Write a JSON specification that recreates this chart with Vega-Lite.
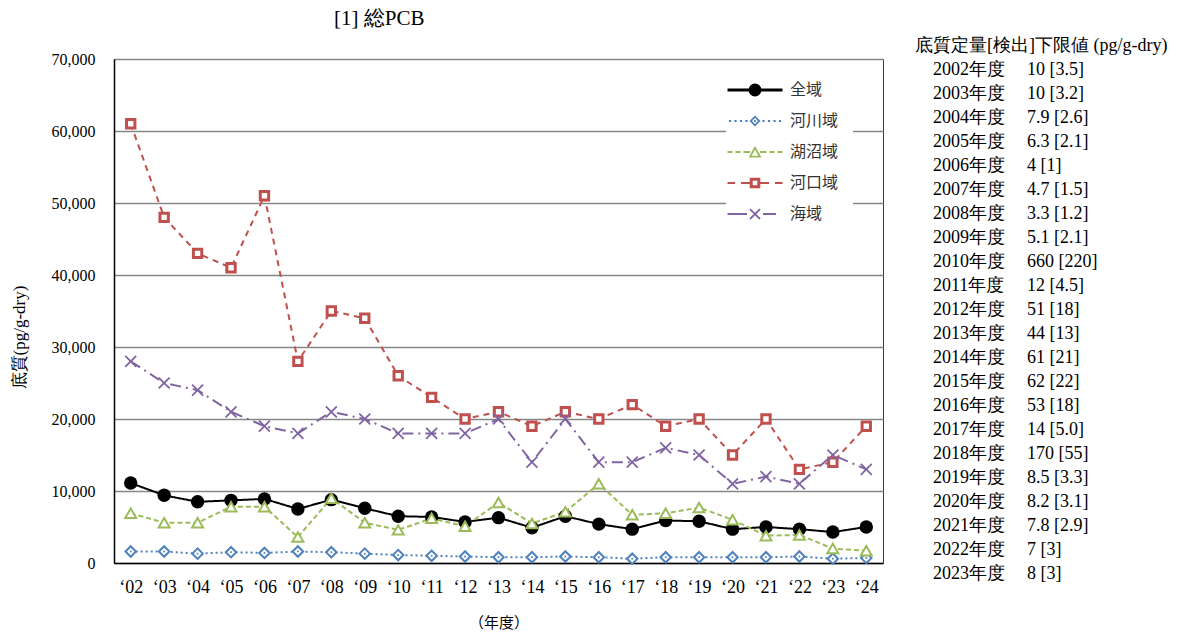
{
  "$schema": "https://vega.github.io/schema/vega-lite/v6.json",
  "background": "white",
  "padding": {"left": 9, "top": 7, "right": 0, "bottom": 0},
  "spacing": 50,
  "bounds": "flush",
  "config": {"view": {"stroke": null}},
  "hconcat": [
    {
      "width": 769,
      "height": 504,
      "view": {"stroke": "#3a3a3a", "strokeWidth": 1},
      "title": {"text": "[1] 総PCB", "anchor": "start", "frame": "group", "dx": 220, "offset": 22, "font": "Liberation Serif, Times New Roman, serif", "fontSize": 21, "fontWeight": "normal", "color": "#000000"},
      "data": {"values": [
        {"yr": "‘02", "全域": 11100, "河川域": 1600, "湖沼域": 6900, "河口域": 61000, "海域": 28000},
        {"yr": "‘03", "全域": 9400, "河川域": 1600, "湖沼域": 5600, "河口域": 48000, "海域": 25000},
        {"yr": "‘04", "全域": 8500, "河川域": 1300, "湖沼域": 5600, "河口域": 43000, "海域": 24000},
        {"yr": "‘05", "全域": 8700, "河川域": 1500, "湖沼域": 7800, "河口域": 41000, "海域": 21000},
        {"yr": "‘06", "全域": 8900, "河川域": 1400, "湖沼域": 7800, "河口域": 51000, "海域": 19000},
        {"yr": "‘07", "全域": 7500, "河川域": 1600, "湖沼域": 3600, "河口域": 28000, "海域": 18000},
        {"yr": "‘08", "全域": 8800, "河川域": 1500, "湖沼域": 9000, "河口域": 35000, "海域": 21000},
        {"yr": "‘09", "全域": 7600, "河川域": 1300, "湖沼域": 5600, "河口域": 34000, "海域": 20000},
        {"yr": "‘10", "全域": 6500, "河川域": 1100, "湖沼域": 4600, "河口域": 26000, "海域": 18000},
        {"yr": "‘11", "全域": 6400, "河川域": 1000, "湖沼域": 6200, "河口域": 23000, "海域": 18000},
        {"yr": "‘12", "全域": 5700, "河川域": 900, "湖沼域": 5100, "河口域": 20000, "海域": 18000},
        {"yr": "‘13", "全域": 6300, "河川域": 800, "湖沼域": 8400, "河口域": 21000, "海域": 20000},
        {"yr": "‘14", "全域": 4900, "河川域": 800, "湖沼域": 5500, "河口域": 19000, "海域": 14000},
        {"yr": "‘15", "全域": 6500, "河川域": 900, "湖沼域": 7100, "河口域": 21000, "海域": 20000},
        {"yr": "‘16", "全域": 5400, "河川域": 800, "湖沼域": 11000, "河口域": 20000, "海域": 14000},
        {"yr": "‘17", "全域": 4700, "河川域": 600, "湖沼域": 6700, "河口域": 22000, "海域": 14000},
        {"yr": "‘18", "全域": 5900, "河川域": 800, "湖沼域": 6900, "河口域": 19000, "海域": 16000},
        {"yr": "‘19", "全域": 5800, "河川域": 800, "湖沼域": 7700, "河口域": 20000, "海域": 15000},
        {"yr": "‘20", "全域": 4700, "河川域": 800, "湖沼域": 6000, "河口域": 15000, "海域": 11000},
        {"yr": "‘21", "全域": 5000, "河川域": 800, "湖沼域": 3800, "河口域": 20000, "海域": 12000},
        {"yr": "‘22", "全域": 4700, "河川域": 900, "湖沼域": 3900, "河口域": 13000, "海域": 11000},
        {"yr": "‘23", "全域": 4300, "河川域": 600, "湖沼域": 2000, "河口域": 14000, "海域": 15000},
        {"yr": "‘24", "全域": 5000, "河川域": 700, "湖沼域": 1700, "河口域": 19000, "海域": 13000}
      ]},
      "transform": [{"fold": ["全域", "河川域", "湖沼域", "河口域", "海域"], "as": ["region", "v"]}],
      "encoding": {
        "x": {
          "field": "yr", "type": "ordinal", "sort": null,
          "scale": {"type": "point", "padding": 0.5},
          "axis": {"title": "（年度）", "titleFont": "Noto Sans CJK JP", "titleFontSize": 15, "titleFontWeight": "normal", "titleColor": "#000000", "titlePadding": 19,
                   "labelFont": "Liberation Serif, Times New Roman, serif", "labelFontSize": 18, "labelAngle": 0, "labelPadding": 15, "labelColor": "#000000",
                   "ticks": false, "grid": false, "domainColor": "#000000", "domainWidth": 1.5}
        },
        "y": {
          "field": "v", "type": "quantitative",
          "scale": {"domain": [0, 70000]},
          "axis": {"title": "底質(pg/g-dry)", "titleFont": "Liberation Serif, Times New Roman, serif", "titleFontSize": 17, "titleFontWeight": "normal", "titleColor": "#000000",
                   "titleX": -95, "titleY": 278, "titleBaseline": "middle",
                   "values": [0, 10000, 20000, 30000, 40000, 50000, 60000, 70000], "format": ",.0f",
                   "labelFont": "Liberation Serif, Times New Roman, serif", "labelFontSize": 16, "labelPadding": 19, "labelColor": "#000000",
                   "ticks": false, "grid": true, "gridColor": "#868686", "gridWidth": 1.3, "domainColor": "#000000", "domainWidth": 1.5}
        }
      },
      "layer": [
        {
          "mark": {"type": "line", "strokeCap": "butt"},
          "encoding": {
            "stroke": {"field": "region", "type": "nominal", "scale": {"domain": ["海域", "河口域", "湖沼域", "河川域", "全域"], "range": ["#8064A2", "#C0504D", "#9BBB59", "#4F81BD", "#000000"]}, "legend": null},
            "strokeDash": {"field": "region", "type": "nominal", "scale": {"domain": ["海域", "河口域", "湖沼域", "河川域", "全域"], "range": [[11, 5, 2, 5], [6, 5], [5, 3], [2, 3], [1, 0]]}, "legend": null},
            "strokeWidth": {"field": "region", "type": "nominal", "scale": {"domain": ["海域", "河口域", "湖沼域", "河川域", "全域"], "range": [2, 2, 2, 2.5, 3.2]}, "legend": null}
          }
        },
        {
          "transform": [{"filter": "datum.region === '全域'"}],
          "mark": {"type": "point", "shape": "circle", "size": 180, "filled": true, "fill": "#000000", "strokeWidth": 0, "opacity": 1}
        },
        {
          "transform": [{"filter": "datum.region === '河川域'"}],
          "mark": {"type": "point", "shape": "diamond", "size": 110, "filled": true, "fill": "#ffffff", "stroke": "#4F81BD", "strokeWidth": 2, "opacity": 1}
        },
        {
          "transform": [{"filter": "datum.region === '河川域'"}],
          "mark": {"type": "point", "shape": "square", "size": 3, "filled": true, "fill": "#4F81BD", "strokeWidth": 0, "opacity": 1}
        },
        {
          "transform": [{"filter": "datum.region === '湖沼域'"}],
          "mark": {"type": "point", "shape": "triangle-up", "size": 120, "filled": true, "fill": "#ffffff", "stroke": "#9BBB59", "strokeWidth": 2, "opacity": 1}
        },
        {
          "transform": [{"filter": "datum.region === '河口域'"}],
          "mark": {"type": "point", "shape": "square", "size": 70, "filled": true, "fill": "#ffffff", "stroke": "#C0504D", "strokeWidth": 3, "opacity": 1}
        },
        {
          "transform": [{"filter": "datum.region === '海域'"}],
          "mark": {"type": "point", "shape": "M-1,-1L1,1M-1,1L1,-1", "size": 120, "filled": false, "stroke": "#8064A2", "strokeWidth": 1.8, "opacity": 1}
        },
        {
          "mark": {"type": "point", "filled": true, "size": 900, "strokeWidth": 0, "opacity": 0},
          "encoding": {
            "shape": {
              "field": "region", "type": "nominal",
              "scale": {"domain": ["全域", "河川域", "湖沼域", "河口域", "海域"], "range": [
                "M-1.833,-0.107L1.833,-0.107L1.833,0.107L-1.833,0.107Z M0.433,0L0.4,0.166L0.306,0.306L0.166,0.4L0,0.433L-0.166,0.4L-0.306,0.306L-0.4,0.166L-0.433,0L-0.4,-0.166L-0.306,-0.306L-0.166,-0.4L0,-0.433L0.166,-0.4L0.306,-0.306L0.4,-0.166Z",
                "M-1.74,-0.073h0.147v0.147h-0.147Z M-1.373,-0.073h0.147v0.147h-0.147Z M-1.006,-0.073h0.147v0.147h-0.147Z M-0.64,-0.073h0.147v0.147h-0.147Z M0.494,-0.073h0.147v0.147h-0.147Z M0.86,-0.073h0.147v0.147h-0.147Z M1.227,-0.073h0.147v0.147h-0.147Z M1.594,-0.073h0.147v0.147h-0.147Z M0,-0.367L0.367,0L0,0.367L-0.367,0Z M0,-0.197L-0.197,0L0,0.197L0.197,0Z M-0.06,-0.06h0.12v0.12h-0.12Z",
                "M-1.833,-0.067H-1.5V0.067H-1.833Z M-1.3,-0.067H-0.967V0.067H-1.3Z M-0.767,-0.067H-0.333V0.067H-0.767Z M0.333,-0.067H0.767V0.067H0.333Z M0.967,-0.067H1.3V0.067H0.967Z M1.5,-0.067H1.833V0.067H1.5Z M0,-0.4L0.433,0.367L-0.433,0.367Z M0,-0.156L-0.227,0.247L0.227,0.247Z",
                "M-1.833,-0.067H-1.333V0.067H-1.833Z M-0.933,-0.067H-0.353V0.067H-0.933Z M0.353,-0.067H0.933V0.067H0.353Z M1.333,-0.067H1.833V0.067H1.333Z M-0.353,-0.353H0.353V0.353H-0.353Z M-0.153,-0.153V0.153H0.153V-0.153Z",
                "M-1.833,-0.067H-0.533V0.067H-1.833Z M0.533,-0.067H1.4V0.067H0.533Z M-0.291,-0.375L0.375,0.291L0.291,0.375L-0.375,-0.291Z M0.375,-0.291L-0.291,0.375L-0.375,0.291L0.291,-0.375Z"
              ]},
              "legend": {"title": null, "orient": "none", "legendX": 612, "legendY": 2, "fillColor": "#ffffff", "padding": 14, "symbolSize": 900, "symbolStrokeWidth": 0, "symbolOpacity": 1, "labelFont": "Noto Sans CJK JP", "labelFontSize": 16, "labelColor": "#333333", "labelOffset": 20, "rowPadding": 8}
            },
            "fill": {
              "field": "region", "type": "nominal",
              "scale": {"domain": ["全域", "河川域", "湖沼域", "河口域", "海域"], "range": ["#000000", "#4F81BD", "#9BBB59", "#C0504D", "#8064A2"]},
              "legend": {"title": null, "orient": "none", "legendX": 612, "legendY": 2, "fillColor": "#ffffff", "padding": 14, "symbolSize": 900, "symbolStrokeWidth": 0, "symbolOpacity": 1, "labelFont": "Noto Sans CJK JP", "labelFontSize": 16, "labelColor": "#333333", "labelOffset": 20, "rowPadding": 8}
            }
          }
        }
      ]
    },
    {
      "width": 94,
      "height": 526,
      "title": {"text": "底質定量[検出]下限値 (pg/g-dry)", "anchor": "start", "frame": "group", "dx": -18, "offset": 4, "font": "Liberation Serif, Times New Roman, serif", "fontSize": 18, "fontWeight": "normal", "color": "#000000"},
      "data": {"values": [
        {"nen": "2002年度", "lim": "10 [3.5]"},
        {"nen": "2003年度", "lim": "10 [3.2]"},
        {"nen": "2004年度", "lim": "7.9 [2.6]"},
        {"nen": "2005年度", "lim": "6.3 [2.1]"},
        {"nen": "2006年度", "lim": "4 [1]"},
        {"nen": "2007年度", "lim": "4.7 [1.5]"},
        {"nen": "2008年度", "lim": "3.3 [1.2]"},
        {"nen": "2009年度", "lim": "5.1 [2.1]"},
        {"nen": "2010年度", "lim": "660 [220]"},
        {"nen": "2011年度", "lim": "12 [4.5]"},
        {"nen": "2012年度", "lim": "51 [18]"},
        {"nen": "2013年度", "lim": "44 [13]"},
        {"nen": "2014年度", "lim": "61 [21]"},
        {"nen": "2015年度", "lim": "62 [22]"},
        {"nen": "2016年度", "lim": "53 [18]"},
        {"nen": "2017年度", "lim": "14 [5.0]"},
        {"nen": "2018年度", "lim": "170 [55]"},
        {"nen": "2019年度", "lim": "8.5 [3.3]"},
        {"nen": "2020年度", "lim": "8.2 [3.1]"},
        {"nen": "2021年度", "lim": "7.8 [2.9]"},
        {"nen": "2022年度", "lim": "7 [3]"},
        {"nen": "2023年度", "lim": "8 [3]"}
      ]},
      "encoding": {
        "y": {"field": "nen", "type": "ordinal", "sort": null, "scale": {"type": "point", "padding": 0.458}, "axis": null}
      },
      "layer": [
        {
          "mark": {"type": "text", "align": "left", "baseline": "middle", "font": "Liberation Serif, Times New Roman, serif", "fontSize": 18, "color": "#000000"},
          "encoding": {
            "x": {"datum": "a", "type": "nominal", "scale": {"type": "point", "domain": ["a", "b"], "padding": 0}, "axis": null},
            "text": {"field": "nen"}
          }
        },
        {
          "mark": {"type": "text", "align": "left", "baseline": "middle", "font": "Liberation Serif, Times New Roman, serif", "fontSize": 18, "color": "#000000"},
          "encoding": {
            "x": {"datum": "b", "type": "nominal", "scale": {"type": "point", "domain": ["a", "b"], "padding": 0}, "axis": null},
            "text": {"field": "lim"}
          }
        }
      ]
    }
  ]
}
